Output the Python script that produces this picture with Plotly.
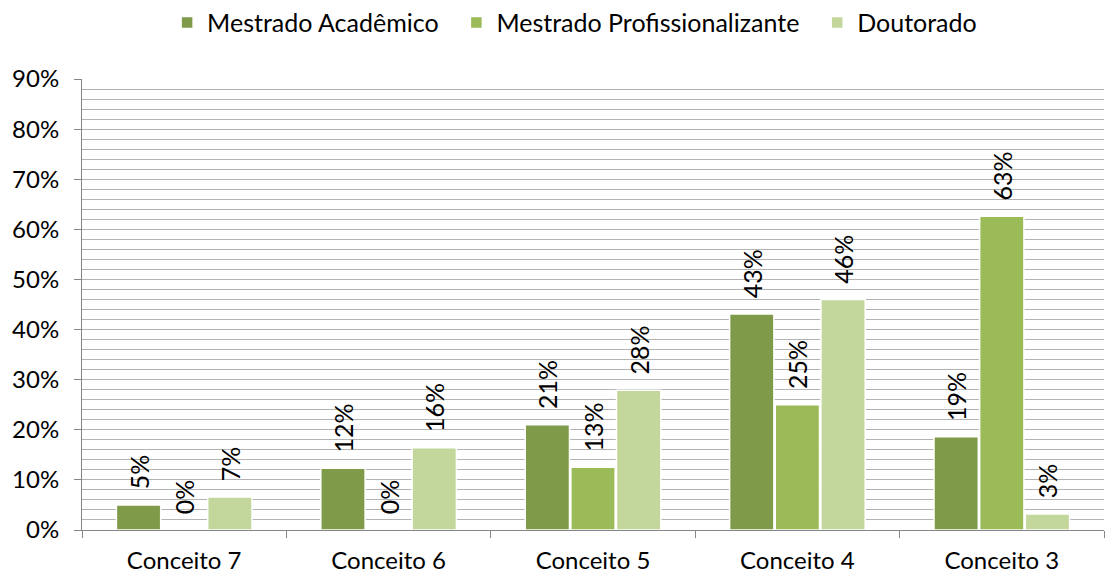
import plotly.graph_objects as go

categorias = ["Conceito 7", "Conceito 6", "Conceito 5", "Conceito 4", "Conceito 3"]
mestrado_academico = [0.050, 0.123, 0.210, 0.431, 0.186]
mestrado_profissional = [0.0, 0.0, 0.125, 0.250, 0.626]
doutorado = [0.066, 0.164, 0.279, 0.460, 0.032]

series = [
    ("Mestrado Acadêmico", mestrado_academico, "#7F9A48"),
    ("Mestrado Profissionalizante", mestrado_profissional, "#9BBB59"),
    ("Doutorado", doutorado, "#C3D69B"),
]

font = "Lato, 'Open Sans', sans-serif"
nbsp = "\u00a0"


def rotulo(v):
    # espaço no início afasta o rótulo do topo da barra (texto rodado)
    return nbsp * 2 + f"{int(v * 100 + 0.5)}%"


fig = go.Figure()
for i, (nome, valores, cor) in enumerate(series):
    fig.add_trace(
        go.Bar(
            x=categorias,
            y=valores,
            name=nome + (nbsp * 2 if i < len(series) - 1 else ""),
            marker=dict(color=cor, line=dict(color="white", width=1.5)),
            text=[rotulo(v) for v in valores],
            textposition="outside",
            textangle=-90,
            constraintext="none",
            textfont=dict(size=25, color="black", family=font),
            cliponaxis=False,
        )
    )

fig.update_layout(
    width=1109,
    height=574,
    margin=dict(l=82, r=5, t=79, b=44, autoexpand=False),
    paper_bgcolor="white",
    plot_bgcolor="white",
    font=dict(family=font, size=24, color="black"),
    barmode="group",
    bargap=0.33,
    bargroupgap=0.03,
    legend=dict(
        orientation="h",
        x=0.482,
        xanchor="center",
        y=1.125,
        yanchor="middle",
        font=dict(size=25),
        itemwidth=30,
        traceorder="normal",
    ),
    xaxis=dict(
        automargin=False,
        showline=True,
        linecolor="#868686",
        linewidth=1,
        ticks="outside",
        tickson="boundaries",
        ticklen=7,
        tickcolor="#868686",
        ticklabelstandoff=9,
        showgrid=False,
    ),
    yaxis=dict(
        automargin=False,
        range=[0, 0.9],
        dtick=0.1,
        tickformat=".0%",
        showline=True,
        linecolor="#868686",
        linewidth=1,
        ticks="outside",
        ticklen=7,
        tickcolor="#868686",
        ticklabelstandoff=10,
        showgrid=True,
        gridcolor="#B3B3B3",
        gridwidth=1,
        zeroline=False,
        minor=dict(dtick=0.02, showgrid=True, gridcolor="#B3B3B3", gridwidth=1),
    ),
)

fig.write_html(
    "out.html",
    config={"displayModeBar": False},
    post_script="document.body.style.margin = '0';",
)
